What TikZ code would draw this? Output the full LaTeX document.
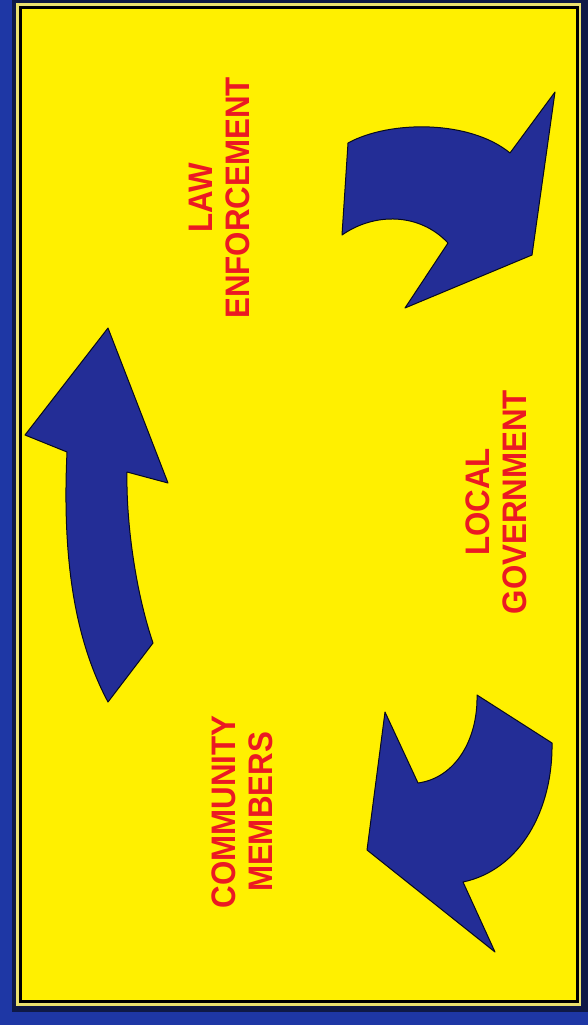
\documentclass[tikz,border=0pt]{standalone}
\usepackage{fontspec}
\newfontfamily\labfont[FakeStretch=0.92]{Liberation Sans}
\definecolor{bgblue}{RGB}{30,55,165}
\definecolor{navy}{RGB}{15,25,70}
\definecolor{fieldyellow}{RGB}{255,240,0}
\definecolor{lineyellow}{RGB}{235,225,110}
\definecolor{arrowblue}{RGB}{35,45,150}
\definecolor{labelred}{RGB}{235,25,35}
\begin{document}
\begin{tikzpicture}[x=1pt,y=-1pt,
  arrowshape/.style={fill=arrowblue, draw=black!80!arrowblue, line width=1pt, line join=round},
  lbl/.style={rotate=90, align=center, text=labelred, inner sep=0pt,
    font=\labfont\bfseries\fontsize{34}{37}\selectfont}]
\useasboundingbox (0,0) rectangle (588,1025);
% border
\fill[bgblue] (0,0) rectangle (588,1025);
\fill[navy] (12,0) rectangle (588,1012);
\fill[lineyellow] (16,3) rectangle (581,1006);
\fill[black] (18.5,6) rectangle (578.5,1002.5);
\fill[fieldyellow] (21.5,9) rectangle (575.5,999.5);
% arrow: top right
\draw[arrowshape] (348,143) .. controls (390,120) and (470,120) .. (510,153)
  -- (555,92) -- (532,255) -- (405,308) -- (448,243)
  .. controls (420,213) and (375,212) .. (342,235) -- cycle;
% arrow: left, pointing up
\draw[arrowshape] (108,328) -- (168,483) -- (127,472)
  .. controls (126,520) and (135,590) .. (153,643)
  -- (108,702)
  .. controls (75,640) and (62,560) .. (67,452)
  -- (25,435) -- cycle;
% arrow: bottom right
\draw[arrowshape] (385,712) -- (418,783)
  .. controls (455,778) and (478,740) .. (477,695)
  -- (552,743)
  .. controls (553,810) and (520,870) .. (463,882)
  -- (495,952) -- (367,850) -- cycle;
% labels
\node[lbl] (law) at (219,198) {LAW\\ENFORCEMENT};
\node[lbl] (gov) at (496.5,502) {LOCAL\\GOVERNMENT};
\node[lbl] (com) at (242.5,812) {COMMUNITY\\MEMBERS};
\end{tikzpicture}
\end{document}
